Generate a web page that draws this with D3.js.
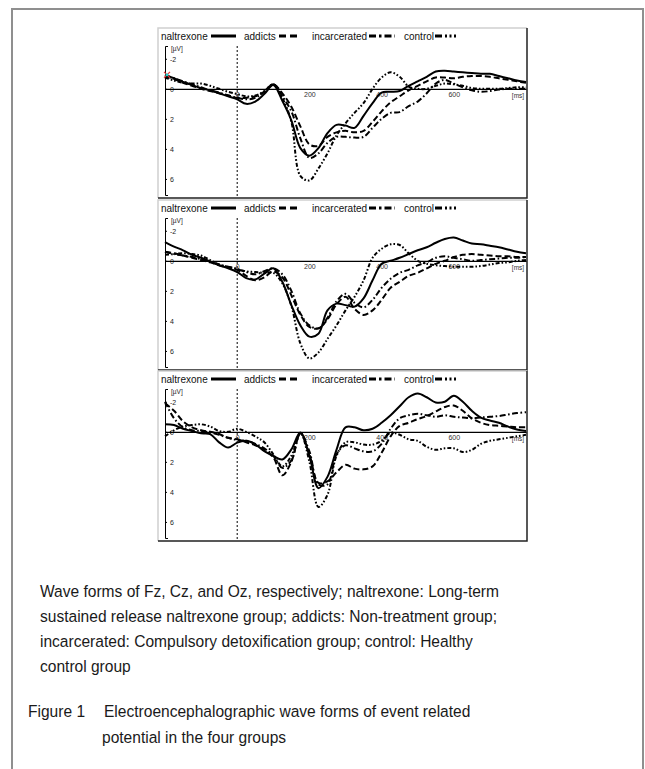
<!DOCTYPE html>
<html><head><meta charset="utf-8">
<script src="https://cdn.jsdelivr.net/npm/d3@7"></script>
<style>
body{margin:0;background:#fff;}
svg{display:block;font-family:"Liberation Sans",Arial,Helvetica,sans-serif;}
</style>
</head><body>
<svg id="c" width="645" height="769"></svg>
<script>
// ---------- DATA ----------
const times = [-200,-175,-150,-125,-100,-75,-50,-25,0,25,50,75,100,125,150,175,200,225,250,275,300,325,350,375,400,425,450,475,500,525,550,575,600,625,650,675,700,725,750,775,800];

const groupLabels = ["naltrexone","addicts","incarcerated","control"];
const panelNames = ["Fz","Cz","Oz"];
const yTicks = [-2,0,2,4,6];
const xTicks = [0,200,400,600];
const yUnit = "[\u00b5V]";
const xUnit = "[ms]";

// Fz (µV, negative up)
const fzNaltrexone = [-0.93,-0.7,-0.45,-0.25,-0.05,0.1,0.3,0.5,0.7,1.0, 0.85,0.35,-0.25,0.8,2.1,3.95,4.45,3.95,2.95,2.4, 2.45,2.6,1.8,0.95,0.25,0.2,0.15,-0.2,-0.5,-0.8, -1.15,-1.2,-1.15,-1.1,-1.05,-1.0,-1.0,-0.85,-0.7,-0.55, -0.45];
const fzAddicts    = [-0.85,-0.65,-0.4,-0.2,0.0,0.15,0.3,0.45,0.6,0.6, 0.5,0.2,-0.3,0.3,1.2,2.5,3.7,3.8,3.2,2.9, 2.8,2.9,2.8,2.2,1.5,0.9,0.5,0.1,-0.2,-0.5, -0.75,-0.75,-0.7,-0.8,-0.85,-0.85,-0.8,-0.7,-0.6,-0.5, -0.4];
const fzIncarcerated = [-0.9,-0.7,-0.5,-0.3,-0.1,0.1,0.25,0.45,0.6,0.7, 0.6,0.2,-0.3,0.5,1.5,3.3,4.6,4.3,3.6,3.2, 3.2,3.25,3.2,2.6,2.0,1.6,1.55,1.15,0.85,0.3, -0.35,-0.6,-0.35,-0.1,0.1,0.2,0.15,0.05,0.0,0.0, 0.0];
const fzControl    = [-0.75,-0.55,-0.4,-0.35,-0.35,-0.2,0.0,0.2,0.35,0.5, 0.45,0.15,-0.3,0.6,2.2,5.8,6.1,5.3,4.3,3.1, 2.3,1.6,0.95,0.0,-0.75,-1.1,-0.8,-0.15,0.0,0.0, -0.2,-0.35,-0.3,-0.2,-0.05,0.0,0.0,0.0,-0.05,-0.1, -0.1];

// Cz
const czNaltrexone = [-1.25,-0.95,-0.7,-0.4,-0.2,0.05,0.3,0.5,0.75,1.15, 1.25,0.85,0.5,1.4,2.95,4.3,5.05,4.85,3.3,2.85, 2.95,3.05,2.5,1.3,0.2,0.0,-0.2,-0.45,-0.7,-0.9, -1.2,-1.45,-1.55,-1.35,-1.15,-1.1,-1.0,-0.9,-0.75,-0.6, -0.5];
const czAddicts    = [-0.6,-0.5,-0.35,-0.2,-0.05,0.1,0.3,0.45,0.6,1.0, 1.3,1.1,0.7,1.1,2.3,3.6,4.4,4.5,3.9,2.9, 2.4,3.2,3.6,3.3,2.6,1.8,1.4,1.0,0.8,0.5, 0.2,0.0,-0.25,-0.4,-0.45,-0.4,-0.35,-0.3,-0.3,-0.25, -0.25];
const czIncarcerated = [-0.6,-0.45,-0.35,-0.25,-0.1,0.05,0.25,0.4,0.55,0.75, 0.9,0.7,0.5,0.9,2.0,3.5,4.3,4.5,3.8,2.7, 2.2,2.8,3.1,2.6,1.8,1.2,0.8,0.6,0.3,0.1, -0.2,-0.3,-0.2,-0.1,0.0,-0.05,-0.1,-0.15,-0.2,-0.2, -0.25];
const czControl    = [-0.4,-0.45,-0.5,-0.45,-0.35,-0.05,0.25,0.4,0.55,0.7, 0.75,0.8,0.8,1.5,3.0,5.5,6.5,6.1,5.2,4.3, 3.3,2.4,1.3,-0.2,-0.8,-1.1,-1.05,-0.5,0.0,0.2, 0.3,0.35,0.4,0.4,0.4,0.35,0.25,0.15,0.1,0.0, -0.05];

// Oz
const ozNaltrexone = [-0.5,-0.45,-0.2,-0.05,0.1,0.15,0.7,1.05,0.72,0.6, 0.83,1.28,1.6,1.84,1.17,0.05,1.6,3.75,3.0,1.2, -0.3,-0.3,-0.1,-0.2,-0.6,-1.1,-1.7,-2.3,-2.55,-2.3, -1.95,-2.0,-2.4,-2.0,-1.4,-0.95,-0.75,-0.6,-0.35,-0.15, -0.05];
const ozAddicts    = [-1.9,-1.4,-0.7,-0.3,-0.1,0.0,0.15,0.4,0.5,0.7, 0.9,1.2,1.7,2.9,2.0,0.1,1.5,3.4,3.3,2.7, 2.2,2.45,2.5,2.3,1.4,0.3,-0.4,-0.6,-0.85,-1.05, -1.35,-1.65,-1.75,-1.4,-0.9,-0.6,-0.45,-0.4,-0.35,-0.3, -0.3];
const ozIncarcerated = [-2.0,-0.9,-0.3,-0.1,-0.05,0.05,0.2,0.4,0.55,0.6, 0.8,1.1,1.6,2.4,1.9,0.1,1.3,3.5,3.5,1.5, 0.9,1.1,1.3,1.3,0.8,-0.2,-0.9,-1.1,-1.2,-1.1, -1.0,-1.1,-1.0,-0.95,-0.9,-0.95,-1.0,-1.05,-1.15,-1.25, -1.3];
const ozControl    = [0.3,-0.1,-0.35,-0.45,-0.5,-0.35,-0.05,0.0,-0.2,0.0, 0.3,0.7,1.5,2.3,1.6,0.1,2.0,5.0,4.2,1.6, 0.7,0.7,0.85,0.85,0.6,0.05,0.2,0.5,0.6,1.0, 1.2,1.1,1.1,1.35,1.2,0.8,0.6,0.5,0.4,0.3, 0.2];

const captionLines = [
  "Wave forms of Fz, Cz, and Oz, respectively; naltrexone: Long-term",
  "sustained release naltrexone group; addicts: Non-treatment group;",
  "incarcerated: Compulsory detoxification group; control: Healthy",
  "control group"
];
const figureLabel = "Figure 1";
const titleLines = ["Electroencephalographic wave forms of event related", "potential in the four groups"];

// ---------- DRAW ----------
const panels = [
  [fzNaltrexone, fzAddicts, fzIncarcerated, fzControl],
  [czNaltrexone, czAddicts, czIncarcerated, czControl],
  [ozNaltrexone, ozAddicts, ozIncarcerated, ozControl]
];
const dashes = [null, "6,3", "6,2.5,1.6,2.5", "4,2,1.6,2,1.6,2"];
const legendDash = [null, "7,4", "7,3,2.5,3", "7,3,2,2.5,2,2.5,2"];
const legendPos = [
  {tx:161, l1:211, l2:236},
  {tx:244, l1:279, l2:299},
  {tx:312, l1:369, l2:395},
  {tx:404, l1:435, l2:463}
];

const svg = d3.select("#c");

// outer frame
svg.append("path").attr("d","M12,780V9H643V780")
  .attr("fill","none").attr("stroke","#8f8f8f").attr("stroke-width",2);

const panelTops = [28, 200, 371];
const pL = 158, pR = 527, pH = 170;
const x = d3.scaleLinear().domain([-200, 800]).range([165, 526]);

panels.forEach((series, i) => {
  const T = panelTops[i];
  const g = svg.append("g");
  g.append("rect").attr("x",pL).attr("y",T).attr("width",pR-pL).attr("height",pH).attr("fill","#fff");
  g.append("path").attr("d",`M${pL},${T+pH}V${T}H${pR}`).attr("fill","none").attr("stroke","#d0d0d0").attr("stroke-width",1.5);
  g.append("path").attr("d",`M${pR},${T}V${T+pH}H${pL}`).attr("fill","none").attr("stroke","#222").attr("stroke-width",1.5);

  const y = d3.scaleLinear().domain([-2.85, 7.07]).range([T+18, T+167]);

  // legend
  groupLabels.forEach((lab, k) => {
    const p = legendPos[k];
    g.append("text").attr("x",p.tx).attr("y",T+11.5).attr("font-size",10).attr("fill","#111").text(lab);
    const ln = g.append("line").attr("x1",p.l1).attr("x2",p.l2).attr("y1",T+8).attr("y2",T+8)
      .attr("stroke","#000").attr("stroke-width",3);
    if (legendDash[k]) ln.attr("stroke-dasharray", legendDash[k]);
  });

  // y axis (bracket)
  const ya = g.append("g").attr("transform","translate(165,0)")
    .call(d3.axisRight(y).tickValues(yTicks).tickSize(2).tickSizeOuter(3).tickPadding(3)
      .tickFormat(d => d < 0 ? "-" + (-d) : String(d)));
  ya.select(".domain").attr("stroke","#000").attr("stroke-width",1);
  ya.selectAll(".tick line").attr("stroke","#000");
  ya.selectAll(".tick text").attr("font-size",7).attr("fill","#222").attr("font-family","Liberation Sans, Arial, sans-serif");
  g.append("text").attr("x",171).attr("y",T+23).attr("font-size",6.5).attr("fill","#222").text(yUnit);

  // x axis along zero line
  const xa = g.append("g").attr("transform",`translate(0,${y(0)})`)
    .call(d3.axisBottom(x).tickValues(xTicks).tickSize(0).tickSizeOuter(0).tickPadding(3));
  xa.select(".domain").attr("stroke","#000").attr("stroke-width",1.2);
  xa.selectAll(".tick text").attr("font-size",7).attr("fill","#333").attr("font-family","Liberation Sans, Arial, sans-serif");
  g.append("text").attr("x",518).attr("y",y(0)+9).attr("text-anchor","middle").attr("font-size",6.5).attr("fill","#333").text(xUnit);

  // stimulus onset line
  g.append("line").attr("x1",x(0)).attr("x2",x(0)).attr("y1",T+18).attr("y2",T+pH)
    .attr("stroke","#000").attr("stroke-width",1).attr("stroke-dasharray","2,2");

  // waveforms
  const line = d3.line().x((d,j) => x(times[j])).y(d => y(d)).curve(d3.curveCatmullRom.alpha(0.5));
  series.forEach((vals, k) => {
    const p = g.append("path").datum(vals).attr("d", line)
      .attr("fill","none").attr("stroke","#000").attr("stroke-width",2).attr("stroke-linejoin","round");
    if (dashes[k]) p.attr("stroke-dasharray", dashes[k]);
  });

  if (i === 0) {
    const cx = x(times[0]) + 2, cy = y(fzNaltrexone[0]);
    g.append("path").attr("d",`M${cx-3},${cy-3}L${cx+3},${cy+3}M${cx-3},${cy+3}L${cx+3},${cy-3}`)
      .attr("stroke","#e33").attr("stroke-width",1.2);
    g.append("circle").attr("cx",cx).attr("cy",cy).attr("r",1.5).attr("fill","#2cc");
  }
});

// caption (narrow-looking sans: scaled horizontally)
const sx = 0.915;
const cap = svg.append("g").attr("font-size",17).attr("fill","#1a1a1a");
function capText(t, px, py) {
  cap.append("text").attr("transform",`translate(${px},${py}) scale(${sx},1)`).text(t);
}
captionLines.forEach((t, k) => capText(t, 40, 597 + k*25));
capText(figureLabel, 28, 717);
titleLines.forEach((t, k) => capText(t, k === 0 ? 104 : 102, 717 + k*26));
</script>
</body></html>
